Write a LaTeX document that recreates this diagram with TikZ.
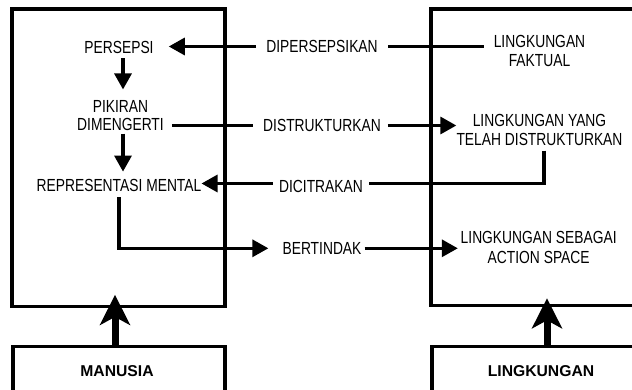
\documentclass[tikz,border=0pt]{standalone}
\usepackage{fontspec}
\setmainfont{Liberation Sans}[FakeStretch=0.79]
\newfontfamily\boldfam{Liberation Sans}
\usetikzlibrary{arrows.meta}
\begin{document}
\begin{tikzpicture}[x=1pt,y=-1pt,
  box/.style={draw, line width=3.2pt, rectangle, inner sep=0pt},
  lbl/.style={font=\fontsize{17.5}{18.5}\selectfont, inner sep=0pt, align=center},
  ttl/.style={font=\boldfam\bfseries\fontsize{15.7}{18}\selectfont, inner sep=0pt},
  conn/.style={line width=3.2pt},
  arr/.style={line width=3.2pt, -{Triangle[length=16pt,width=17pt]}},
  bigarr/.style={line width=7pt, -{Stealth[length=30pt,width=30pt,inset=8pt]}},
]
\useasboundingbox (0,0) rectangle (632,390);
\clip (0,0) rectangle (632,390);

% boxes
\node[box, minimum width=213pt, minimum height=297.5pt] (hbox) at (118.5,157.75) {};
\node[box, minimum width=229pt, minimum height=296.5pt] (ebox) at (545.5,157.25) {};
\node[box, minimum width=212pt, minimum height=83.3pt] (mbox) at (119,388.35) {};
\node[box, minimum width=228pt, minimum height=83.3pt] (lbox) at (546,388.35) {};

% titles
\node[ttl] (manusia) at (117,371.5) {MANUSIA};
\node[ttl] (lingk) at (541,371.5) {LINGKUNGAN};

% texts
\node[lbl] (persepsi) at (119,47) {PERSEPSI};
\node[lbl] (pikiran) at (120.5,115.5) {PIKIRAN\\DIMENGERTI};
\node[lbl] (rep) at (119,185) {REPRESENTASI MENTAL};
\node[lbl] (dip) at (322,46.5) {DIPERSEPSIKAN};
\node[lbl] (dis) at (322,125.5) {DISTRUKTURKAN};
\node[lbl] (dic) at (321,186.5) {DICITRAKAN};
\node[lbl] (bert) at (322,248.3) {BERTINDAK};
\node[lbl] (fak) at (539.5,51) {LINGKUNGAN\\FAKTUAL};
\node[lbl] (lty) at (539.5,130) {LINGKUNGAN YANG\\TELAH DISTRUKTURKAN};
\node[lbl] (lsa) at (538.7,247.5) {LINGKUNGAN SEBAGAI\\[1.5pt]ACTION SPACE};

% connectors
\draw[conn, shorten <=10pt, shorten >=10pt] (dip.east -| fak.west) -- (dip.east);
\draw[arr, shorten <=10pt, shorten >=15pt] (dip.west) -- (dip.west -| persepsi.east);
\draw[arr, shorten <=5pt, shorten >=10.5pt] ([xshift=4pt]persepsi.south) -- ([xshift=4pt]persepsi.south |- pikiran.north);
\draw[arr, shorten <=2.5pt, shorten >=7pt] ([xshift=2.5pt]pikiran.south) -- ([xshift=2.5pt]pikiran.south |- rep.north);
\draw[conn, shorten <=8pt, shorten >=10pt] (dis.west -| pikiran.east) -- (dis.west);
\draw[arr, shorten <=7pt] (dis.east) -- (dis.east -| lty.west);
\draw[conn, shorten <=5pt, shorten >=6pt] ([xshift=4.5pt]lty.south) |- ([yshift=3pt]dic.east);
\draw[arr, shorten <=6pt] ([yshift=3pt]dic.west) -- ([yshift=3pt]dic.west -| rep.east);
\draw[arr, shorten <=6pt, shorten >=14pt] (rep.south) |- (bert.west);
\draw[arr, shorten <=3pt, shorten >=2.7pt] (bert.east) -- (bert.east -| lsa.west);

% big arrows
\draw[bigarr] ([xshift=-4pt]mbox.north) -- ([xshift=-4pt,yshift=13.2pt]mbox.north |- hbox.south);
\draw[bigarr] ([xshift=1pt]lbox.north) -- ([xshift=1pt,yshift=8.8pt]lbox.north |- ebox.south);
\end{tikzpicture}
\end{document}
